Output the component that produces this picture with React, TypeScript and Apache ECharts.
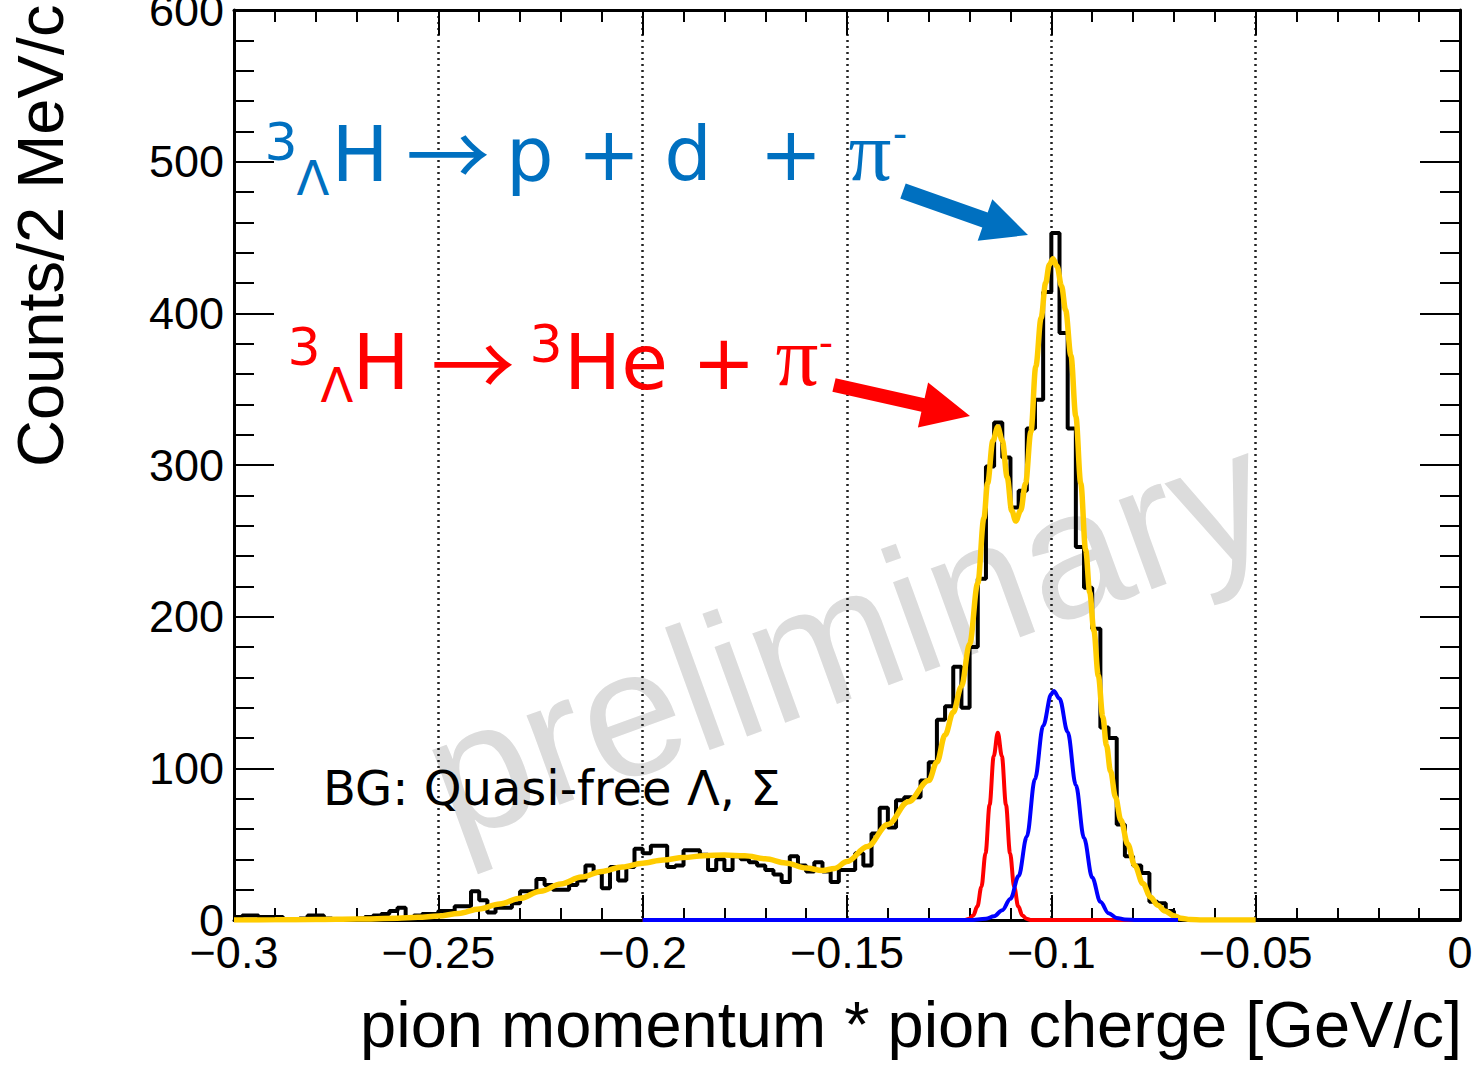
import React, { useEffect, useRef } from "react";
import * as echarts from "echarts";

// ---------------- data ----------------
const X_MIN = -0.3;
const X_MAX = 0;
const BIN_WIDTH = 0.002; // 2 MeV/c bins
const Y_MIN = 0;
const Y_MAX = 600;

const xTickValues = [-0.3, -0.25, -0.2, -0.15, -0.1, -0.05, 0];
const xTickLabels = ["\u22120.3", "\u22120.25", "\u22120.2", "\u22120.15", "\u22120.1", "\u22120.05", "0"];
const yTickLabels = ["0", "100", "200", "300", "400", "500", "600"];

// counts per 2 MeV/c bin, from -0.300 to 0.000 GeV/c (150 bins)
const histCounts = [
  2, 3, 3, 2, 2, 2, 0, 0, 1, 3,
  3, 1, 0, 0, 0, 1, 2, 3, 4, 6,
  8, 2, 3, 4, 4, 6, 6, 9, 9, 19,
  13, 5, 8, 8, 11, 19, 19, 27, 23, 20,
  20, 23, 26, 36, 31, 21, 35, 26, 35, 47,
  44, 49, 49, 35, 36, 46, 46, 43, 33, 40,
  33, 42, 40, 38, 36, 33, 30, 25, 42, 36,
  32, 38, 32, 25, 33, 33, 44, 36, 57, 74,
  61, 79, 81, 81, 92, 104, 132, 141, 167, 140,
  180, 225, 299, 328, 305, 272, 283, 324, 343, 414,
  453, 387, 324, 246, 219, 192, 127, 120, 63, 42,
  36, 31, 12, 11, 6, 0, 0, 0, 0, 0,
  0, 0, 0, 0, 0, 0, 0, 0, 0, 0,
  0, 0, 0, 0, 0, 0, 0, 0, 0, 0,
  0, 0, 0, 0, 0, 0, 0, 0, 0, 0,
];

// total fit (yellow)
const fitTotalX = [
  -0.3, -0.29, -0.28, -0.27, -0.26, -0.255, -0.25, -0.245, -0.24, -0.235,
  -0.23, -0.225, -0.22, -0.215, -0.21, -0.205, -0.2, -0.195, -0.19, -0.185,
  -0.18, -0.175, -0.17, -0.165, -0.16, -0.156, -0.153, -0.15, -0.145, -0.14,
  -0.135, -0.13, -0.128, -0.126, -0.124, -0.122, -0.12, -0.118, -0.1165, -0.1156,
  -0.1143, -0.1131, -0.112, -0.1108, -0.1097, -0.1087, -0.1075, -0.1063, -0.105, -0.1038,
  -0.1025, -0.1014, -0.1005, -0.0996, -0.0986, -0.0975, -0.0965, -0.0952, -0.094, -0.0928,
  -0.0916, -0.0906, -0.0896, -0.0885, -0.0874, -0.0865, -0.0855, -0.0843, -0.083, -0.0813,
  -0.0796, -0.0776, -0.0757, -0.074, -0.0722, -0.07, -0.0683, -0.066, -0.063, -0.05,
];
const fitTotalY = [
  0, 0.1, 0.3, 0.6, 1.2, 1.8, 2.6, 4.3, 7.3, 10.6,
  14.3, 19, 23.8, 28.3, 32, 35, 37.5, 39.6, 41.2, 42.4,
  42.9, 42.3, 40.4, 37.6, 34.3, 32.6, 34, 38.5, 48.5, 63,
  78, 92, 104, 122, 137, 154, 182, 222, 265, 288,
  316, 325, 316, 292, 270, 263, 270, 288, 322, 365,
  397, 420, 432, 436, 431, 418, 402, 372, 332, 288,
  244, 216, 191, 161, 134, 115, 98, 81, 66, 50,
  36, 24, 15, 9.8, 6, 2.8, 1.2, 0.3, 0, 0,
];

// 3LH -> 3He + pi- component (red)
const fitHeX = [
  -0.2, -0.125, -0.1211, -0.1201, -0.1191, -0.1181, -0.1171, -0.1161, -0.1151, -0.1141,
  -0.1131, -0.1121, -0.1111, -0.1101, -0.1091, -0.1081, -0.1071, -0.1061, -0.1051, -0.1, -0.069,
];
const fitHeY = [
  0, 0, 0, 0.8, 3, 9, 22, 44, 76, 108,
  123.5, 108, 76, 44, 22, 9, 3, 0.8, 0, 0, 0,
];

// 3LH -> p + d + pi- component (blue)
const fitPdX = [
  -0.2, -0.12, -0.116, -0.114, -0.112, -0.11, -0.108, -0.106, -0.104, -0.102,
  -0.1, -0.0994, -0.098, -0.096, -0.094, -0.092, -0.09, -0.088, -0.086, -0.084,
  -0.082, -0.079, -0.069,
];
const fitPdY = [
  0, 0, 0.8, 2.5, 6.5, 14, 29, 55, 93, 128,
  149, 151, 146, 124, 89, 54, 28, 12, 4.5, 1.4,
  0.4, 0, 0,
];

// ---------------- helpers ----------------
const histPoints: number[][] = histCounts.map((c, i) => [X_MIN + i * BIN_WIDTH, c]);
histPoints.push([X_MAX, 0]);
const zip = (xs: number[], ys: number[]) => xs.map((x, i) => [x, ys[i]]);

const xLabel = (v: number) => {
  const idx = xTickValues.findIndex((t) => Math.abs(t - v) < 1e-6);
  return idx >= 0 ? xTickLabels[idx] : "";
};
const yLabel = (v: number) => {
  const idx = Math.round(v / 100);
  return yTickLabels[idx] ?? "";
};

const SANS = "Liberation Sans";
const DEJAVU = "DejaVu Sans";
const SERIF = "Liberation Serif";
const CJK = "Noto Sans CJK JP";
const BLUE = "#0070C0";
const RED = "#FF0000";

function txt(
  text: string,
  x: number,
  y: number,
  size: number,
  family: string,
  color: string,
  align: string = "center",
  rotation = 0,
  z = 50
) {
  return {
    type: "text",
    x,
    y,
    rotation,
    z,
    silent: true,
    style: {
      text,
      fill: color,
      fontSize: size,
      fontFamily: family,
      align,
      textAlign: align,
      verticalAlign: "middle",
      textVerticalAlign: "middle",
    },
  };
}

const baseXAxis = (position: string, showLabel: boolean, showSplit: boolean) => ({
  type: "value",
  min: X_MIN,
  max: X_MAX,
  interval: 0.05,
  position,
  axisLine: { show: true, onZero: false, lineStyle: { color: "#000", width: 3 } },
  axisTick: { show: true, inside: true, length: 25, lineStyle: { color: "#000", width: 2 } },
  minorTick: { show: true, splitNumber: 5, length: 12, lineStyle: { color: "#000", width: 2 } },
  axisLabel: {
    show: showLabel,
    margin: 32,
    verticalAlign: "middle",
    fontFamily: SANS,
    fontSize: 45,
    color: "#000",
    formatter: xLabel,
    showMinLabel: true,
    showMaxLabel: true,
  },
  splitLine: { show: showSplit, lineStyle: { type: [2, 4], color: "#222", width: 2.5 } },
  minorSplitLine: { show: false },
});

const baseYAxis = (position: string, showLabel: boolean) => ({
  type: "value",
  min: Y_MIN,
  max: Y_MAX,
  interval: 100,
  position,
  axisLine: { show: true, onZero: false, lineStyle: { color: "#000", width: 3 } },
  axisTick: { show: true, inside: true, length: 40, lineStyle: { color: "#000", width: 2 } },
  minorTick: { show: true, splitNumber: 5, length: 20, lineStyle: { color: "#000", width: 2 } },
  axisLabel: {
    show: showLabel,
    margin: 10,
    fontFamily: SANS,
    fontSize: 45,
    color: "#000",
    formatter: yLabel,
    showMinLabel: true,
    showMaxLabel: true,
  },
  splitLine: { show: false },
});

const option: any = {
  animation: false,
  backgroundColor: "#ffffff",
  grid: {
    left: 234,
    right: 14,
    top: 10,
    bottom: 146,
    containLabel: false,
    outerBoundsMode: "none",
  },
  xAxis: [baseXAxis("bottom", true, true), baseXAxis("top", false, false)],
  yAxis: [baseYAxis("left", true), baseYAxis("right", false)],
  series: [
    {
      name: "data",
      type: "line",
      step: "end",
      data: histPoints,
      symbol: "none",
      lineStyle: { color: "#000", width: 4 },
      z: 2,
    },
    {
      name: "total fit",
      type: "line",
      data: zip(fitTotalX, fitTotalY),
      smooth: 0.35,
      smoothMonotone: "x",
      symbol: "none",
      lineStyle: { color: "#FFCC00", width: 5.5 },
      z: 3,
    },
    {
      name: "3He + pi-",
      type: "line",
      data: zip(fitHeX, fitHeY),
      smooth: 0.35,
      smoothMonotone: "x",
      symbol: "none",
      lineStyle: { color: "#FF0000", width: 4 },
      z: 4,
    },
    {
      name: "p + d + pi-",
      type: "line",
      data: zip(fitPdX, fitPdY),
      smooth: 0.35,
      smoothMonotone: "x",
      symbol: "none",
      lineStyle: { color: "#0000FF", width: 4 },
      z: 5,
    },
  ],
  graphic: [
    // watermark
    {
      type: "text",
      x: 846,
      y: 634,
      rotation: (20 * Math.PI) / 180,
      z: -10,
      silent: true,
      style: {
        text: "preliminary",
        fill: "#DCDCDC",
        fontSize: 180,
        fontFamily: SANS,
        align: "center",
        textAlign: "center",
        verticalAlign: "middle",
        textVerticalAlign: "middle",
      },
    },
    // axis titles
    txt("Counts/2 MeV/c", 40, 467, 65, SANS, "#000", "left", Math.PI / 2),
    txt("pion momentum * pion cherge [GeV/c]", 1462, 1024, 65, SANS, "#000", "right"),
    // blue annotation
    txt("3", 281, 142, 52, DEJAVU, BLUE),
    txt("\u039B", 313, 178, 48, DEJAVU, BLUE),
    txt("H", 360, 154, 76, DEJAVU, BLUE),
    txt("\u2192", 448, 150, 84, CJK, BLUE),
    txt("p + d  + ", 506, 154, 75, DEJAVU, BLUE, "left"),
    txt("\u03C0", 870, 151, 85, SERIF, BLUE),
    txt("-", 900, 134, 40, DEJAVU, BLUE),
    // red annotation
    txt("3", 304, 347, 52, DEJAVU, RED),
    txt("\u039B", 337, 385, 48, DEJAVU, RED),
    txt("H", 381, 362, 76, DEJAVU, RED),
    txt("\u2192", 473, 360, 84, CJK, RED),
    txt("3", 546, 344, 52, DEJAVU, RED),
    txt("He + ", 564, 362, 76, DEJAVU, RED, "left"),
    txt("\u03C0", 797, 356, 85, SERIF, RED),
    txt("-", 826, 343, 40, DEJAVU, RED),
    // background label
    txt("BG: Quasi-free \u039B, \u03A3", 323, 788, 48, DEJAVU, "#000", "left"),
    // arrows
    {
      type: "polygon",
      z: 40,
      silent: true,
      shape: {
        points: [
          [905.7, 183.5],
          [987.7, 212.5],
          [992.3, 199.3],
          [1028, 235],
          [977.7, 240.7],
          [982.3, 227.5],
          [900.3, 198.5],
        ],
      },
      style: { fill: BLUE },
    },
    {
      type: "polygon",
      z: 40,
      silent: true,
      shape: {
        points: [
          [835.6, 378.2],
          [924.6, 398.2],
          [928.1, 382.6],
          [970, 416],
          [917.9, 427.4],
          [921.4, 411.8],
          [832.4, 391.8],
        ],
      },
      style: { fill: RED },
    },
  ],
};

export default function App() {
  const ref = useRef<HTMLDivElement>(null);
  useEffect(() => {
    if (!ref.current) return;
    const chart = echarts.init(ref.current, undefined, { renderer: "svg" });
    chart.setOption(option);
    return () => {
      chart.dispose();
    };
  }, []);
  return (
    <div
      ref={ref}
      style={{ position: "fixed", left: 0, top: 0, width: 1474, height: 1066, background: "#fff" }}
    />
  );
}
